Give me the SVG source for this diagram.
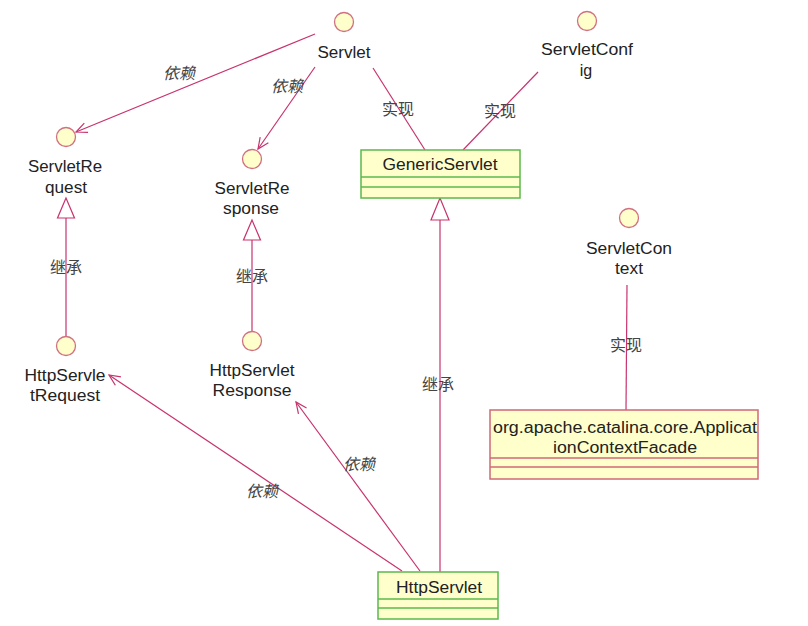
<svg xmlns="http://www.w3.org/2000/svg" width="808" height="626" viewBox="0 0 808 626">
<defs>
<style>
.t{font-family:"Liberation Sans",Arial,sans-serif;font-size:16px;fill:#222;text-anchor:middle}
.l{font-family:"Liberation Sans","Noto Sans CJK SC",sans-serif;font-size:16px;fill:#444;text-anchor:middle}
.i{font-style:italic}
.c{fill:#ffffcc;stroke:#d07080;stroke-width:1.3}
.e{stroke:#c8326e;stroke-width:1.2;fill:none}
.g{fill:#ffffcc;stroke:#5cb84c;stroke-width:1.5}
.r{fill:#ffffcc;stroke:#d06878;stroke-width:1.5}
.tri{fill:#fff;stroke:#c8326e;stroke-width:1.2}
</style>
<marker id="open" markerUnits="userSpaceOnUse" markerWidth="14" markerHeight="14" refX="12" refY="6" orient="auto" viewBox="0 0 14 12">
<path d="M1,1 L12,6 L1,11" fill="none" stroke="#c8326e" stroke-width="1.2"/>
</marker>
</defs>
<rect width="808" height="626" fill="#fff"/>
<g id="connectors">
<line class="e" x1="315" y1="34" x2="76" y2="132" marker-end="url(#open)"/>
<line class="e" x1="315" y1="67" x2="258" y2="149" marker-end="url(#open)"/>
<line class="e" x1="373" y1="68" x2="425" y2="150"/>
<line class="e" x1="538" y1="72" x2="463" y2="150"/>
<line class="e" x1="66" y1="336" x2="66" y2="218"/>
<polygon class="tri" points="66,198 57.5,218 74.5,218"/>
<line class="e" x1="252" y1="332" x2="252" y2="240"/>
<polygon class="tri" points="252,220 243.5,240 260.5,240"/>
<line class="e" x1="440" y1="572" x2="440" y2="220"/>
<polygon class="tri" points="440,198 431,220 449,220"/>
<line class="e" x1="627" y1="285" x2="626" y2="410"/>
<line class="e" x1="402" y1="571" x2="109" y2="375" marker-end="url(#open)"/>
<line class="e" x1="420" y1="571" x2="296" y2="402" marker-end="url(#open)"/>
<text class="l i" x="179" y="79">依赖</text>
<text class="l i" x="287" y="92">依赖</text>
<text class="l" x="398" y="115">实现</text>
<text class="l" x="500" y="117">实现</text>
<text class="l" x="66" y="273">继承</text>
<text class="l" x="252" y="282">继承</text>
<text class="l" x="438" y="390">继承</text>
<text class="l" x="626" y="351">实现</text>
<text class="l i" x="262" y="497">依赖</text>
<text class="l i" x="359" y="470">依赖</text>
</g>
<g id="Servlet">
<circle class="c" cx="344" cy="22" r="9.5"/>
<text class="t" x="344" y="58" textLength="53" lengthAdjust="spacingAndGlyphs">Servlet</text>
</g>
<g id="ServletConfig">
<circle class="c" cx="587" cy="21" r="9.5"/>
<text class="t" x="587" y="55" textLength="92" lengthAdjust="spacingAndGlyphs">ServletConf</text>
<text class="t" x="586" y="76">ig</text>
</g>
<g id="ServletRequest">
<circle class="c" cx="66" cy="137" r="9.5"/>
<text class="t" x="65" y="172" textLength="74" lengthAdjust="spacingAndGlyphs">ServletRe</text>
<text class="t" x="66" y="193" textLength="42" lengthAdjust="spacingAndGlyphs">quest</text>
</g>
<g id="ServletResponse">
<circle class="c" cx="252" cy="159" r="9.5"/>
<text class="t" x="252" y="194" textLength="75" lengthAdjust="spacingAndGlyphs">ServletRe</text>
<text class="t" x="251" y="214" textLength="56" lengthAdjust="spacingAndGlyphs">sponse</text>
</g>
<g id="GenericServlet">
<rect class="g" x="361" y="150" width="159" height="48"/>
<line class="g" x1="361" y1="177" x2="520" y2="177"/>
<line class="g" x1="361" y1="187" x2="520" y2="187"/>
<text class="t" x="440" y="170" textLength="115" lengthAdjust="spacingAndGlyphs">GenericServlet</text>
</g>
<g id="ServletContext">
<circle class="c" cx="629" cy="218" r="9.5"/>
<text class="t" x="629" y="254" textLength="86" lengthAdjust="spacingAndGlyphs">ServletCon</text>
<text class="t" x="629" y="274" textLength="28" lengthAdjust="spacingAndGlyphs">text</text>
</g>
<g id="HttpServletRequest">
<circle class="c" cx="66" cy="346" r="9.5"/>
<text class="t" x="65" y="381" textLength="81" lengthAdjust="spacingAndGlyphs">HttpServle</text>
<text class="t" x="65" y="401" textLength="70" lengthAdjust="spacingAndGlyphs">tRequest</text>
</g>
<g id="HttpServletResponse">
<circle class="c" cx="252" cy="341" r="9.5"/>
<text class="t" x="252" y="376" textLength="85" lengthAdjust="spacingAndGlyphs">HttpServlet</text>
<text class="t" x="252" y="396" textLength="79" lengthAdjust="spacingAndGlyphs">Response</text>
</g>
<g id="ApplicationContextFacade">
<rect class="r" x="490" y="410" width="268" height="69"/>
<line class="r" x1="490" y1="458" x2="758" y2="458"/>
<line class="r" x1="490" y1="467" x2="758" y2="467"/>
<text class="t" x="625" y="433" textLength="264" lengthAdjust="spacingAndGlyphs">org.apache.catalina.core.Applicat</text>
<text class="t" x="625" y="453" textLength="144" lengthAdjust="spacingAndGlyphs">ionContextFacade</text>
</g>
<g id="HttpServlet">
<rect class="g" x="378" y="572" width="120" height="47"/>
<line class="g" x1="378" y1="599" x2="498" y2="599"/>
<line class="g" x1="378" y1="608" x2="498" y2="608"/>
<text class="t" x="439" y="593" textLength="86" lengthAdjust="spacingAndGlyphs">HttpServlet</text>
</g>
</svg>
